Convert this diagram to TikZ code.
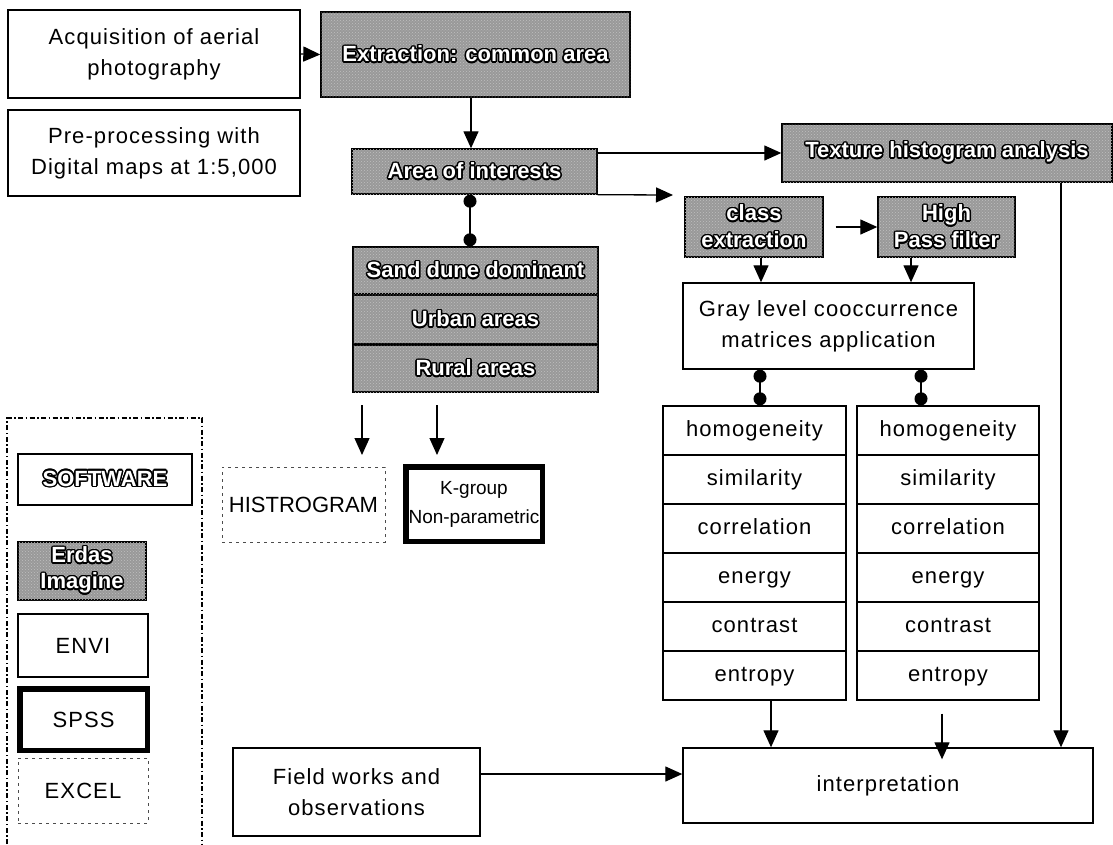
\documentclass[tikz,border=0pt]{standalone}
\usepackage{fontspec}
\setmainfont{Liberation Sans}[LetterSpace=5]
\newfontfamily\plainsans{Liberation Sans}
\usepackage{contour}
\contourlength{1.5pt}
\usetikzlibrary{arrows.meta,patterns}
\newcommand\olt[1]{\textcolor{white}{\contour{black}{\plainsans\bfseries #1}}}
\tikzset{
  box/.style={draw, line width=1.4pt, inner sep=0pt, align=center,
    font=\fontsize{22}{31}\selectfont},
  gbox/.style={box, fill=black!40, postaction={pattern=crosshatch dots, pattern color=black!25}},
  dbox/.style={box, line width=0.9pt, draw=black!70, dash pattern=on 3pt off 4pt},
  thickbox/.style={box, line width=5pt},
  listbox/.style={box, text height=16pt, text depth=5pt},
  ar/.style={line width=1.3pt, -{Triangle[length=17pt,width=15pt]}},
  dotl/.style={line width=1.3pt, {Circle[length=13pt]}-{Circle[length=13pt]}},
  legendframe/.style={line width=1.2pt, dash pattern=on 5pt off 2.5pt on 1.5pt off 2.5pt}
}
\begin{document}
\begin{tikzpicture}[x=1pt,y=-1pt]
\useasboundingbox (0,0) rectangle (1113,844);
% top left
\node[box, minimum width=292, minimum height=88] (acq) at (154,54) {Acquisition of aerial\\photography};
\node[box, minimum width=292, minimum height=86] (pre) at (154,153) {Pre-processing with\\Digital maps at 1:5,000};
\node[gbox, minimum width=309, minimum height=85] (ext) at (475.5,54.5) {\olt{Extraction: common area}};
\node[gbox, minimum width=245, minimum height=45] (aoi) at (474.5,171.5) {\olt{Area of interests}};
\node[gbox, minimum width=330, minimum height=58] (tex) at (947,153) {\olt{Texture histogram analysis}};
\node[gbox, minimum width=138, minimum height=60] (cls) at (754,227) {\olt{class}\\[-4pt]\olt{extraction}};
\node[gbox, minimum width=137, minimum height=60] (hpf) at (946.5,227) {\olt{High}\\[-4pt]\olt{Pass filter}};
\node[box, minimum width=291, minimum height=86] (glcm) at (828.5,326) {Gray level cooccurrence\\matrices application};
% classes
\node[gbox, minimum width=245, minimum height=47] (sand) at (475.5,270.5) {\olt{Sand dune dominant}};
\node[gbox, minimum width=245, minimum height=48] (urban) at (475.5,319.5) {\olt{Urban areas}};
\node[gbox, minimum width=245, minimum height=47] (rural) at (475.5,368.5) {\olt{Rural areas}};
\node[dbox, minimum width=163, minimum height=75, font=\plainsans\fontsize{22}{31}\selectfont] (hist) at (303.5,504.5) {HISTROGRAM};
\node[thickbox, minimum width=137, minimum height=75, font=\plainsans\fontsize{19}{29}\selectfont] (kgrp) at (474,504) {K-group\\Non-parametric};
\draw[line width=0.8pt] ([shift={(5,5)}]kgrp.north west) rectangle ([shift={(-5,-5)}]kgrp.south east);
% measure lists
\foreach \t [count=\i] in {homogeneity,similarity,correlation,energy,contrast,entropy}{
  \node[listbox, minimum width=183, minimum height=49] (l\i) at (754.5,{381.5+49*\i}) {\t};
  \node[listbox, minimum width=182, minimum height=49] (r\i) at (948,{381.5+49*\i}) {\t};
}
% bottom
\node[box, minimum width=247, minimum height=88] (field) at (356.5,792) {Field works and\\observations};
\node[box, minimum width=410, minimum height=75] (interp) at (888,785.5) {interpretation};
% legend
\draw[legendframe] (7,844) -- (7,418) -- (202,418) -- (202,844);
\node[box, line width=1.2pt, minimum width=174, minimum height=51] (sw) at (105,479.5) {\olt{SOFTWARE}};
\node[gbox, line width=1.2pt, minimum width=128, minimum height=58] (erdas) at (82,571) {\olt{Erdas}\\[-5pt]\olt{Imagine}};
\node[box, minimum width=130, minimum height=63] (envi) at (83,645.5) {ENVI};
\node[thickbox, minimum width=128, minimum height=62] (spss) at (83.5,719.5) {SPSS};
\draw[line width=0.8pt] ([shift={(5,5)}]spss.north west) rectangle ([shift={(-5,-5)}]spss.south east);
\node[dbox, minimum width=130, minimum height=65] (excel) at (83,790.5) {EXCEL};
% coordinates for free arrow ends
\coordinate (c1) at (673,195);
\coordinate (h1) at (362,405);
\coordinate (h2) at (362,455);
\coordinate (k1) at (437,405);
\coordinate (k2) at (437,455);
% connectors
\draw[ar] (acq.east) -- (ext.west);
\draw[ar] (ext.south -| 471,0) -- (aoi.north -| 471,0);
\draw[ar] (aoi.east |- tex.west) -- (tex.west);
\draw[ar] (aoi.south east) -- (c1);
\draw[dotl] (aoi.south -| 470,0) -- (sand.north -| 470,0);
\draw[ar] (h1) -- (h2);
\draw[ar] (k1) -- (k2);
\draw[ar, shorten <=12pt] (cls.east) -- (hpf.west);
\draw[ar] (cls.south -| 761,0) -- (glcm.north -| 761,0);
\draw[ar] (hpf.south -| 911,0) -- (glcm.north -| 911,0);
\draw[dotl] (glcm.south -| 760,0) -- (l1.north -| 760,0);
\draw[dotl] (glcm.south -| 921,0) -- (r1.north -| 921,0);
\draw[ar] (l6.south -| 771,0) -- (interp.north -| 771,0);
\draw[ar, shorten <=13pt, shorten >=-12pt] (r6.south -| 942,0) -- (interp.north -| 942,0);
\draw[ar] (tex.south -| 1061,0) -- (interp.north -| 1061,0);
\draw[ar] (field.east |- 0,774) -- (interp.west |- 0,774);
\end{tikzpicture}
\end{document}
